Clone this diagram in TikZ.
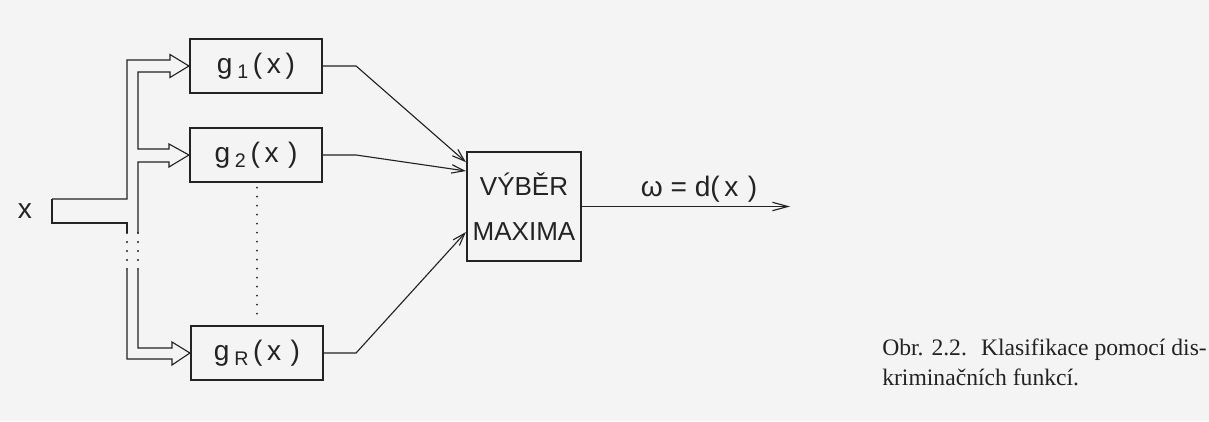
\documentclass[tikz,border=0pt]{standalone}
\usepackage{fontspec}
\setmainfont{Liberation Serif}
\newfontfamily\lettering{Liberation Sans}
\usepackage{tikz}
\usetikzlibrary{arrows.meta,calc}
\definecolor{paper}{RGB}{244,244,244}
\definecolor{ink}{RGB}{35,35,35}
\newcommand\lowidx[1]{\raisebox{-0.35ex}{\fontsize{14}{14}\selectfont #1}}

\begin{document}
\begin{tikzpicture}[
    x=0.025cm, y=-0.025cm,
    gbox/.style={draw=ink, line width=1.5pt, minimum width=3.3cm, minimum height=1.33cm, inner sep=0pt, text=ink, font=\lettering\fontsize{20}{22}\selectfont},
    selbox/.style={gbox, minimum width=2.85cm, minimum height=2.72cm, align=center, font=\lettering\fontsize{18.5}{32}\selectfont},
    wire/.style={draw=ink, line width=0.8pt},
    feed/.style={wire, -{Straight Barb[length=9pt,width=6pt]}},
    band/.style={draw=ink, line width=0.8pt, line join=miter},
    gapline/.style={draw=ink, line width=1.5pt, line cap=round, dash pattern=on 0pt off 6.4pt},
    lab/.style={text=ink, font=\lettering\fontsize{20}{22}\selectfont},
    capt/.style={text=ink, align=left, inner sep=0pt, font=\fontsize{16.8}{21.3}\selectfont}
  ]
  \useasboundingbox (0,0) rectangle (1209,421);
  \fill[paper] (0,0) rectangle (1209,421);

  \node[gbox] (g1) at (256,66) {g\,\lowidx{1}\,(\,x\,)};
  \node[gbox] (g2) at (256,155) {g\,\lowidx{2}\,(\,x\,\,)};
  \node[gbox] (gR) at (257,353) {g\,\lowidx{R}\,(\,x\,\,)};
  \node[selbox] (sel) at (524,206.5) {VÝBĚR\\MAXIMA};
  \node[lab] (x) at (25,211) {x};
  \coordinate (out) at (790,206.5);

  % wide input arrow splitting to the discriminant functions
  \draw[band] (52,199) -- (127,199) -- (127,60) -- (170,60) -- (170,54.5) -- (g1.west)
    -- (170,77.5) -- (170,72) -- (138,72) -- (138,149) -- (169,149) -- (169,144) -- (g2.west)
    -- (169,167) -- (169,162) -- (138,162) -- (138,233);
  \draw[band] (138,270) -- (138,348) -- (172,348) -- (172,342) -- (gR.west)
    -- (172,365) -- (172,359) -- (127,359) -- (127,270);
  \draw[band] (127,233) -- (127,223) -- (52,223) -- (52,199);
  \draw[gapline] (127,233) -- (127,270);
  \draw[gapline] (138,233) -- (138,270);
  \draw[gapline] ($(g2.south)+(1,5)$) -- ($(gR.north)+(0,-5)$);

  \draw[feed] (g1.east) -- ++(33,0) -- ($(sel.north west)!0.10!(sel.south west)$);
  \draw[feed] (g2.east) -- ++(33,0) -- ($(sel.north west)!0.18!(sel.south west)$);
  \draw[feed] (gR.east) -- ++(32,0) -- ($(sel.north west)!0.73!(sel.south west)$);

  \draw[wire, -{Straight Barb[length=11pt,width=6pt]}] (sel.east) -- (out);
  \node[lab] (dlab) at (699,189) {ω = d(\,x\,\,)};

  \node[capt, anchor=base west] (cap) at (882,385) {Obr. 2.2.\hspace{0.6em}Klasifikace pomocí dis-\\kriminačních funkcí.};
\end{tikzpicture}
\end{document}
